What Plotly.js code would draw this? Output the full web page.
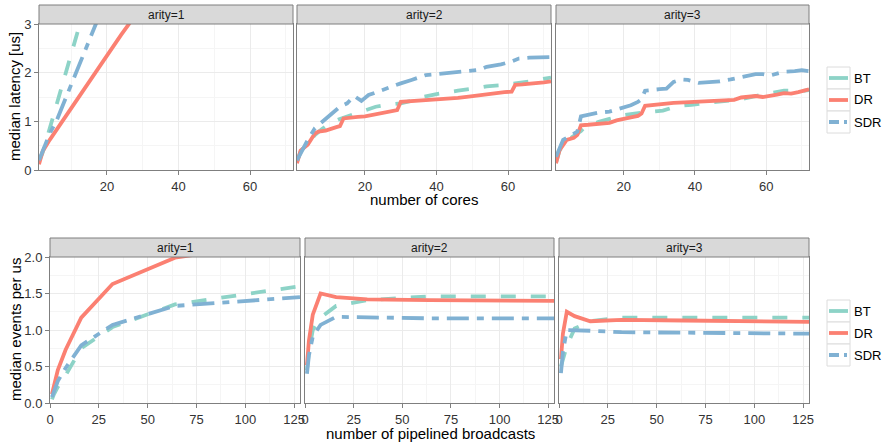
<!DOCTYPE html>
<html><head><meta charset="utf-8">
<script src="https://cdn.plot.ly/plotly-3.0.1.min.js"></script>
<style>html,body{margin:0;padding:0;background:#fff}#chart{width:886px;height:443px}</style>
</head><body><div id="chart"></div>
<script>
// ---------------- DATA ----------------
const seriesNames = ['BT', 'DR', 'SDR'];
const panelLabels = ['arity=1', 'arity=2', 'arity=3'];
const topXTitle = 'number of cores';
const topYTitle = 'median latency [us]';
const botXTitle = 'number of pipelined broadcasts';
const botYTitle = 'median events per us';

// Top row: median latency vs number of cores
const a1_BT_x  = [1, 2, 3, 4, 6, 8, 10, 12, 14];
const a1_BT_y  = [0.18, 0.35, 0.6, 0.85, 1.35, 1.85, 2.4, 2.9, 3.4];
const a1_DR_x  = [1, 2, 4, 8, 12, 16, 20, 24, 28, 32];
const a1_DR_y  = [0.12, 0.38, 0.62, 1.06, 1.49, 1.92, 2.35, 2.78, 3.2, 3.6];
const a1_SDR_x = [1, 2, 4, 6, 8, 10, 12, 14, 16, 18];
const a1_SDR_y = [0.2, 0.4, 0.75, 1.03, 1.4, 1.76, 2.12, 2.48, 2.84, 3.2];

const a2_BT_x  = [1, 2, 4, 6, 8, 10, 13, 16, 20, 23, 26, 30, 33, 36, 40, 43, 46, 50, 54, 58, 61, 63, 66, 69, 72];
const a2_BT_y  = [0.18, 0.38, 0.55, 0.72, 0.84, 0.95, 1.05, 1.12, 1.23, 1.3, 1.34, 1.37, 1.42, 1.5, 1.56, 1.6, 1.63, 1.67, 1.72, 1.74, 1.76, 1.79, 1.82, 1.86, 1.9];
const a2_DR_x  = [1, 2, 4, 5, 6, 7, 9, 12, 13, 14, 16, 18, 20, 22, 23, 25, 27, 29, 30, 32, 35, 38, 40, 43, 46, 49, 51, 54, 57, 59, 61, 62, 64, 66, 68, 70, 72];
const a2_DR_y  = [0.14, 0.4, 0.52, 0.62, 0.75, 0.79, 0.81, 0.88, 0.9, 1.06, 1.08, 1.09, 1.1, 1.13, 1.16, 1.19, 1.21, 1.23, 1.4, 1.41, 1.42, 1.43, 1.44, 1.46, 1.48, 1.51, 1.53, 1.55, 1.58, 1.6, 1.61, 1.75, 1.76, 1.77, 1.79, 1.8, 1.82];
const a2_SDR_x = [1, 2, 4, 6, 8, 9, 11, 13, 15, 17, 19, 21, 24, 26, 28, 30, 33, 37, 40, 44, 48, 52, 54, 58, 61, 63, 66, 69, 72];
const a2_SDR_y = [0.2, 0.35, 0.62, 0.86, 0.98, 1.05, 1.17, 1.3, 1.37, 1.52, 1.42, 1.54, 1.62, 1.68, 1.72, 1.78, 1.85, 1.95, 1.97, 2.0, 2.03, 2.06, 2.12, 2.17, 2.23, 2.29, 2.31, 2.32, 2.32];

const a3_BT_x  = [1, 2, 4, 6, 8, 9, 11, 13, 16, 18, 20, 23, 26, 28, 31, 34, 36, 39, 42, 46, 50, 54, 57, 59, 62, 65, 68, 70, 72];
const a3_BT_y  = [0.15, 0.4, 0.6, 0.7, 0.8, 0.88, 0.94, 0.99, 1.05, 1.1, 1.13, 1.16, 1.18, 1.2, 1.22, 1.29, 1.32, 1.34, 1.37, 1.4, 1.43, 1.47, 1.52, 1.55, 1.58, 1.63, 1.63, 1.62, 1.64];
const a3_DR_x  = [1, 2, 4, 6, 7, 8, 10, 12, 14, 16, 18, 20, 22, 24, 25, 26, 28, 31, 34, 37, 40, 43, 46, 49, 51, 53, 55, 57, 59, 61, 63, 65, 67, 69, 71, 72];
const a3_DR_y  = [0.14, 0.41, 0.62, 0.66, 0.72, 0.92, 0.93, 0.94, 0.95, 0.97, 1.02, 1.06, 1.08, 1.11, 1.16, 1.32, 1.34, 1.36, 1.38, 1.39, 1.4, 1.4, 1.42, 1.43, 1.44, 1.49, 1.5, 1.52, 1.5, 1.52, 1.55, 1.58, 1.57, 1.6, 1.63, 1.66];
const a3_SDR_x = [1, 2, 3, 5, 7, 8, 10, 13, 16, 19, 22, 24, 25, 26, 28, 30, 32, 34, 36, 38, 41, 44, 47, 50, 53, 55, 57, 59, 61, 63, 65, 68, 70, 72];
const a3_SDR_y = [0.27, 0.45, 0.62, 0.7, 0.79, 1.1, 1.14, 1.18, 1.2, 1.26, 1.33, 1.4, 1.45, 1.63, 1.65, 1.66, 1.67, 1.81, 1.86, 1.85, 1.79, 1.8, 1.82, 1.86, 1.9, 1.93, 1.97, 1.97, 1.94, 1.98, 2.02, 2.03, 2.05, 2.03];

// Bottom row: median events per us vs number of pipelined broadcasts
const pipelined = [1, 2, 4, 8, 16, 32, 64, 128];
const b1_BT  = [0.05, 0.12, 0.22, 0.38, 0.75, 1.04, 1.35, 1.6];
const b1_DR  = [0.12, 0.25, 0.45, 0.73, 1.17, 1.63, 1.99, 2.25];
const b1_SDR = [0.08, 0.16, 0.3, 0.48, 0.79, 1.07, 1.33, 1.45];
const b2_BT  = [0.45, 0.7, 1.0, 1.17, 1.33, 1.41, 1.46, 1.46];
const b2_DR  = [0.52, 0.85, 1.21, 1.5, 1.45, 1.42, 1.41, 1.40];
const b2_SDR = [0.4, 0.65, 0.91, 1.07, 1.18, 1.17, 1.16, 1.16];
const b3_BT  = [0.5, 0.6, 0.78, 1.02, 1.12, 1.17, 1.17, 1.17];
const b3_DR  = [0.6, 0.95, 1.25, 1.19, 1.12, 1.14, 1.13, 1.11];
const b3_SDR = [0.41, 0.7, 1.0, 1.0, 0.99, 0.97, 0.96, 0.95];

// ---------------- STYLE ----------------
const W = 886, H = 443;
const FONT = 'Liberation Sans, Arial, Helvetica, sans-serif';
const colors = {BT: '#8dd3c7', DR: '#fb8072', SDR: '#80b1d3'};
const dashes = {BT: '15px,15px', DR: 'solid', SDR: '22px,8px,7px,8px'};
const LW = 3.8;
const px = v => v / W;
const py = v => 1 - v / H;

const topData = [
  {BT: [a1_BT_x, a1_BT_y], DR: [a1_DR_x, a1_DR_y], SDR: [a1_SDR_x, a1_SDR_y]},
  {BT: [a2_BT_x, a2_BT_y], DR: [a2_DR_x, a2_DR_y], SDR: [a2_SDR_x, a2_SDR_y]},
  {BT: [a3_BT_x, a3_BT_y], DR: [a3_DR_x, a3_DR_y], SDR: [a3_SDR_x, a3_SDR_y]}
];
const botData = [
  {BT: b1_BT, DR: b1_DR, SDR: b1_SDR},
  {BT: b2_BT, DR: b2_DR, SDR: b2_SDR},
  {BT: b3_BT, DR: b3_DR, SDR: b3_SDR}
];

// panel pixel boxes
const topX = [[39, 293], [297, 551], [556, 809]];
const topY = [24, 170];
const botX = [[50, 300], [305, 554], [559, 809]];
const botY = [257, 403];
const topStrip = [5, 24];
const botStrip = [238, 257];

const traces = [];
topData.forEach((pd, i) => {
  const ax = i === 0 ? '' : String(i + 1);
  seriesNames.forEach(s => {
    traces.push({type: 'scatter', mode: 'lines', x: pd[s][0], y: pd[s][1], name: s,
      xaxis: 'x' + ax, yaxis: 'y' + ax, showlegend: false, hoverinfo: 'skip',
      line: {color: colors[s], width: LW, dash: dashes[s]}});
  });
});
botData.forEach((pd, i) => {
  const ax = String(i + 4);
  seriesNames.forEach(s => {
    traces.push({type: 'scatter', mode: 'lines', x: pipelined, y: pd[s], name: s,
      xaxis: 'x' + ax, yaxis: 'y' + ax, showlegend: false, hoverinfo: 'skip',
      line: {color: colors[s], width: LW, dash: dashes[s]}});
  });
});

const tickfont = {family: FONT, size: 13, color: '#333333'};
function baseAxis(extra) {
  return Object.assign({
    showgrid: true, gridcolor: '#ebebeb', gridwidth: 1,
    showline: true, mirror: true, linecolor: '#7f7f7f', linewidth: 1,
    zeroline: false, fixedrange: true, tickfont: tickfont,
    ticks: 'outside', ticklen: 4, tickcolor: '#7f7f7f', tickwidth: 1
  }, extra);
}

const layout = {
  width: W, height: H, margin: {l: 0, r: 0, t: 0, b: 0},
  paper_bgcolor: '#ffffff', plot_bgcolor: '#ffffff',
  font: {family: FONT, color: '#000'},
  showlegend: false, shapes: [], annotations: []
};

for (let i = 0; i < 3; i++) {
  const ax = i === 0 ? '' : String(i + 1);
  layout['xaxis' + ax] = baseAxis({
    domain: [px(topX[i][0]), px(topX[i][1])], anchor: 'y' + ax,
    range: [1, 72], tick0: 0, dtick: 20,
    minor: {tick0: 0, dtick: 10, showgrid: true, gridcolor: '#f5f5f5', gridwidth: 1}
  });
  layout['yaxis' + ax] = baseAxis({
    domain: [py(topY[1]), py(topY[0])], anchor: 'x' + ax,
    range: [0, 3], tick0: 0, dtick: 1,
    showticklabels: i === 0, ticks: i === 0 ? 'outside' : '',
    minor: {tick0: 0, dtick: 0.5, showgrid: true, gridcolor: '#f5f5f5', gridwidth: 1}
  });
  const bx = String(i + 4);
  layout['xaxis' + bx] = baseAxis({
    domain: [px(botX[i][0]), px(botX[i][1])], anchor: 'y' + bx,
    range: [0, 128], tick0: 0, dtick: 25,
    minor: {tick0: 0, dtick: 12.5, showgrid: true, gridcolor: '#f5f5f5', gridwidth: 1}
  });
  layout['yaxis' + bx] = baseAxis({
    domain: [py(botY[1]), py(botY[0])], anchor: 'x' + bx,
    range: [0, 2], tick0: 0, dtick: 0.5, tickformat: '.1f',
    showticklabels: i === 0, ticks: i === 0 ? 'outside' : '',
    minor: {tick0: 0, dtick: 0.25, showgrid: true, gridcolor: '#f5f5f5', gridwidth: 1}
  });

  // strips
  [[topX[i], topStrip], [botX[i], botStrip]].forEach(([xs, ys]) => {
    layout.shapes.push({type: 'rect', xref: 'paper', yref: 'paper',
      x0: px(xs[0]), x1: px(xs[1]), y0: py(ys[1]), y1: py(ys[0]),
      fillcolor: '#d9d9d9', line: {color: '#7f7f7f', width: 1}, layer: 'above'});
    layout.annotations.push({xref: 'paper', yref: 'paper',
      x: px((xs[0] + xs[1]) / 2), y: py((ys[0] + ys[1]) / 2 + 0.5),
      text: panelLabels[i], showarrow: false, xanchor: 'center', yanchor: 'middle',
      font: {family: FONT, size: 12, color: '#1a1a1a'}});
  });
}

// axis titles
const titleFont = {family: FONT, size: 15, color: '#000'};
layout.annotations.push(
  {xref: 'paper', yref: 'paper', x: px(424), y: py(200), text: topXTitle, showarrow: false,
   xanchor: 'center', yanchor: 'middle', font: titleFont},
  {xref: 'paper', yref: 'paper', x: px(430), y: py(433), text: botXTitle, showarrow: false,
   xanchor: 'center', yanchor: 'middle', font: titleFont},
  {xref: 'paper', yref: 'paper', x: px(15), y: py(97), text: topYTitle, showarrow: false,
   textangle: -90, xanchor: 'center', yanchor: 'middle', font: titleFont},
  {xref: 'paper', yref: 'paper', x: px(15), y: py(330), text: botYTitle, showarrow: false,
   textangle: -90, xanchor: 'center', yanchor: 'middle', font: titleFont}
);

// manual legends (ggplot-style keys)
const legendKeyDash = {BT: 'solid', DR: 'solid', SDR: '10px,5px,3px,5px'};
function addLegend(top) {
  seriesNames.forEach((s, k) => {
    const y0 = top + k * 22, y1 = y0 + 22, yc = y0 + 11;
    layout.shapes.push({type: 'rect', xref: 'paper', yref: 'paper',
      x0: px(827), x1: px(850), y0: py(y1), y1: py(y0),
      fillcolor: '#ffffff', line: {color: '#dcdcdc', width: 1}});
    layout.shapes.push({type: 'line', xref: 'paper', yref: 'paper',
      x0: px(829), x1: px(848), y0: py(yc), y1: py(yc),
      line: {color: colors[s], width: LW, dash: legendKeyDash[s]}});
    layout.annotations.push({xref: 'paper', yref: 'paper', x: px(852), y: py(yc),
      text: s, showarrow: false, xanchor: 'left', yanchor: 'middle',
      font: {family: FONT, size: 13, color: '#000'}});
  });
}
addLegend(67);
addLegend(300);

Plotly.newPlot('chart', traces, layout, {staticPlot: true, displayModeBar: false});
</script></body></html>
